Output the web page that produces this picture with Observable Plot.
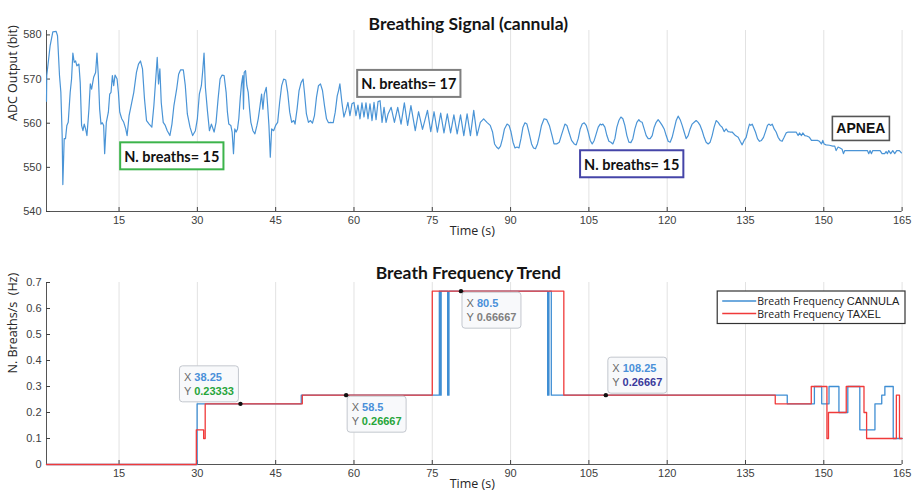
<!DOCTYPE html>
<html><head><meta charset="utf-8">
<script src="https://cdn.jsdelivr.net/npm/d3@7"></script>
<script src="https://cdn.jsdelivr.net/npm/@observablehq/plot@0.6"></script>
<style>
html,body{margin:0;padding:0;background:#fff;}
#chart{width:913px;height:495px;overflow:hidden;}
#chart svg{display:block;}
</style>
</head><body><div id="chart"></div>
<script>
// ---------- DATA ----------
const signalTime = [1.1,1.15,1.79,2.31,2.95,3.21,3.59,3.85,4.10,4.23,4.49,4.74,5.00,5.26,5.64,5.90,6.15,6.41,6.67,6.92,7.31,7.56,7.82,8.08,8.33,8.59,8.85,9.23,9.49,9.74,10.13,10.51,10.77,11.03,11.28,11.54,11.79,12.05,12.24,12.56,12.95,13.21,13.46,13.72,13.97,14.23,14.62,14.87,15.13,15.51,15.90,16.28,16.54,16.92,17.31,17.82,18.33,18.72,19.10,19.49,19.87,20.26,20.77,21.28,21.67,22.05,22.31,22.56,22.82,23.08,23.46,23.85,24.23,24.74,25.13,25.51,26.03,26.41,26.79,27.31,27.69,28.08,28.59,29.10,29.62,30.00,30.38,30.77,31.03,31.28,31.54,31.92,32.31,32.69,33.21,
33.58,33.97,34.35,34.74,35.12,35.51,35.76,36.02,36.41,36.66,36.92,37.17,37.43,37.69,37.94,38.20,38.46,38.71,38.84,38.97,39.23,39.48,39.74,40.00,40.25,40.64,41.02,41.41,41.66,41.92,42.30,42.56,42.82,43.20,43.46,43.71,43.97,44.23,44.61,44.99,45.38,45.76,46.15,46.53,46.92,47.30,47.69,48.07,48.46,48.71,49.10,49.48,49.87,50.25,50.51,50.89,51.28,51.66,52.05,52.43,52.82,53.20,53.58,53.97,54.35,54.74,55.12,55.51,56.02,56.41,56.79,57.05,57.30,57.69,58.07,58.46,58.84,59.23,59.61,60.00,60.38,60.76,61.15,61.53,61.92,62.30,62.69,63.07,63.46,63.84,64.23,64.61,65.00,65.38,65.76,66.15,66.53,
67.12,67.75,68.38,69.02,69.65,70.28,70.91,71.74,72.37,73.13,74.08,74.71,75.34,75.98,76.61,77.24,77.88,78.51,79.14,79.77,80.41,81.04,81.67,82.31,82.94,83.57,84.20,84.84,85.47,86.10,86.55,86.93,87.31,87.69,88.07,88.45,88.83,89.33,89.71,90.09,90.47,90.85,91.23,91.61,91.99,92.37,92.75,93.13,93.51,94.02,94.39,94.77,95.15,95.53,95.92,96.42,96.93,97.43,97.94,98.32,98.82,99.33,99.71,
100.41,100.79,101.17,101.68,102.19,102.57,102.96,103.34,103.72,104.11,104.49,104.87,105.26,105.64,106.02,106.40,106.79,107.17,107.43,107.68,108.06,108.45,108.83,109.21,109.59,109.98,110.36,110.74,111.13,111.51,111.89,112.28,112.66,113.04,113.42,113.81,114.19,114.57,114.83,115.21,115.59,115.98,116.36,116.74,117.13,117.51,117.89,118.27,118.66,119.04,119.42,119.81,120.19,120.57,120.95,121.34,121.72,122.10,122.49,122.87,123.25,123.63,124.02,124.40,124.78,125.17,125.55,125.93,126.31,126.70,127.08,127.46,127.85,128.23,128.61,128.99,129.38,129.76,130.14,130.53,130.91,131.29,131.67,132.06,132.44,133.08,
133.60,133.98,134.36,134.74,135.13,135.51,135.77,136.02,136.28,136.53,136.91,137.30,137.68,138.06,138.45,138.83,139.21,139.47,139.85,140.11,140.49,140.87,141.25,141.64,142.02,142.40,142.79,143.17,143.68,144.19,144.70,145.08,145.34,145.72,145.98,146.36,146.74,147.25,147.64,148.27,148.78,149.17,149.55,149.81,150.06,150.44,151.08,151.72,152.10,152.36,152.74,153.12,153.51,153.76,154.02,154.91,156.19,157.46,158.36,158.61,158.87,159.12,159.38,160.02,160.78,161.16,161.67,161.93,162.18,162.44,162.82,163.21,163.59,163.97,164.48,164.87];
const signalValue = [565.0,570.8,577.5,580.7,580.8,579.8,570.8,567.0,557.2,546.1,556.5,556.5,559.5,560.2,567.0,570.0,575.9,573.8,574.1,573.0,573.4,569.2,559.5,558.3,559.8,558.7,557.2,563.2,568.9,567.7,570.4,571.5,575.9,570.8,563.2,559.8,560.1,559.5,553.1,560.2,562.5,566.6,567.0,570.8,568.5,570.9,570.0,567.0,562.5,561.0,560.2,558.7,557.2,561.7,564.0,567.0,571.5,573.4,574.1,572.3,565.5,560.6,559.8,559.1,564.0,570.4,574.9,568.9,572.3,564.7,560.2,559.5,558.3,557.2,559.8,564.0,567.7,571.1,572.1,572.1,568.5,562.1,559.1,557.2,558.3,561.0,566.6,568.5,571.9,575.9,568.1,562.9,558.3,559.8,558.0,
560.2,565.5,570.0,570.9,570.8,567.0,562.5,559.8,559.5,558.0,553.1,558.7,558.0,558.7,561.0,565.5,568.9,570.8,563.2,571.5,571.9,568.5,567.0,563.2,560.2,558.3,557.6,559.5,561.0,563.2,566.6,563.2,566.6,568.1,564.0,559.5,552.3,558.7,558.3,559.5,560.2,564.7,568.5,570.0,569.8,567.0,562.5,560.2,560.6,559.8,563.2,567.4,569.2,570.0,567.0,562.1,560.2,560.6,560.0,561.7,565.9,568.5,568.9,567.4,564.0,561.0,560.1,560.2,560.1,562.5,566.2,567.4,568.9,564.7,561.4,562.9,564.7,561.7,564.4,564.7,561.7,564.1,561.0,564.6,561.4,564.6,561.0,564.4,560.6,564.7,560.8,564.9,565.1,560.2,563.6,560.2,562.1,
563.6,560.2,563.6,559.8,564.6,559.5,564.0,558.3,562.6,558.6,562.9,558.1,562.6,558.0,562.3,557.8,562.1,557.8,561.9,557.6,561.9,557.2,562.1,557.2,562.9,557.2,560.2,561.0,560.2,559.5,558.0,555.3,554.6,554.2,554.8,556.5,558.7,559.8,559.5,558.0,555.7,554.4,554.6,554.4,556.5,559.1,560.1,559.8,558.0,555.3,554.4,554.2,555.3,557.2,559.5,561.0,560.8,559.5,557.2,555.3,555.3,555.7,557.2,
559.8,559.5,558.0,556.1,555.3,555.1,556.5,558.7,559.8,560.1,559.5,558.0,556.1,555.3,556.1,557.6,559.1,559.8,559.6,559.8,559.1,557.2,555.9,555.7,555.3,556.5,559.1,560.6,561.4,561.0,559.5,557.2,555.7,555.6,556.5,558.7,560.2,560.8,560.4,560.2,558.7,557.2,556.5,556.5,557.2,559.1,560.2,560.8,560.2,559.5,558.7,557.2,555.9,555.7,556.8,558.7,560.6,561.6,560.8,559.5,558.0,556.5,557.2,558.7,559.8,560.2,560.6,560.2,559.5,558.3,556.8,555.7,555.3,555.7,557.2,559.1,560.6,560.2,559.5,559.1,558.1,558.7,558.1,558.0,558.0,557.2,
556.8,555.9,555.1,556.1,556.8,558.7,559.8,559.5,559.8,559.1,558.0,556.5,555.9,556.1,556.8,558.1,559.5,559.8,559.5,559.8,558.7,558.0,556.8,556.1,555.9,556.8,557.8,558.0,558.0,558.0,558.0,557.2,557.8,557.2,557.8,557.2,557.1,556.8,556.1,556.1,556.1,555.9,555.3,556.1,555.3,555.1,555.0,554.8,554.8,553.8,554.6,554.4,554.1,553.1,553.8,553.8,553.8,553.8,553.8,553.1,553.8,553.1,553.8,553.8,553.8,553.1,553.1,553.6,553.1,553.8,553.1,553.8,553.1,553.8,553.8,553.3];

const cannulaTime  = [1.1, 29.95, 49.9, 76.35, 76.55, 76.7, 77.95, 78.2, 97.1, 97.35, 97.8, 143.0, 148.2, 149.6, 151.0, 152.9, 154.6, 156.9, 159.8, 161.1, 161.7, 163.3, 165];
const cannulaValue = [0, 0.23333, 0.26667, 0.66667, 0.26667, 0.66667, 0.26667, 0.66667, 0.26667, 0.66667, 0.26667, 0.23333, 0.3, 0.23333, 0.3, 0.2, 0.3, 0.13333, 0.23333, 0.26667, 0.3, 0.1, 0.1];
const taxelTime  = [1.1, 29.8, 31.2, 31.5, 50.1, 75.0, 100.2, 140.7, 147.6, 150.6, 150.9, 154.3, 157.7, 158.2, 163.9, 164.5, 165];
const taxelValue = [0, 0.13333, 0.1, 0.23333, 0.26667, 0.66667, 0.26667, 0.23333, 0.3, 0.1, 0.2, 0.3, 0.2, 0.1, 0.26667, 0.1, 0.1];

const tipTimes  = [38.25, 58.5, 80.5, 108.25];
const tipValues = [0.23333, 0.26667, 0.66667, 0.26667];

const xTicks = [15, 30, 45, 60, 75, 90, 105, 120, 135, 150, 165];
const topYTicks = [540, 550, 560, 570, 580];
const bottomYTicks = [0, 0.1, 0.2, 0.3, 0.4, 0.5, 0.6, 0.7];

const noteLabels = ["N. breaths= 15", "N. breaths= 17", "N. breaths= 15", "APNEA"];
const noteTimes  = [25.2, 70.6, 113.3, 157.2];
const noteLevels = [552.5, 568.9, 550.7, 558.7];

const legendLabels = [["Breath Frequency ", "CANNULA"], ["Breath Frequency ", "TAXEL"]];
const titles = ["Breathing Signal (cannula)", "Breath Frequency Trend"];
const xLabel = "Time (s)";
const yLabels = ["ADC Output (bit)", "N. Breaths/s  (Hz)"];

// ---------- STYLE ----------
const BLUE = "#3f8ed3", RED = "#f03a3a";
const noteStrokes = ["#3cb44b", "#7f7f7f", "#4545a8", "#555555"];
const noteFonts = ["Lato", "Lato", "Lato", "'Liberation Sans'"];
const tipYColors = ["#27a53a", "#27a53a", "#808080", "#3a3a9c"];
const tipCorners = [["br", -1.5, -1.5], ["tl", 1.5, 1.5], ["tl", 1.5, 1.5], ["bl", 2.5, -1.5]];
const TICK = "#404040";
const X0 = 1.1;

// ---------- TABLES ----------
const signal = signalTime.map((t, i) => ({t, v: signalValue[i]}));
const cannula = cannulaTime.map((t, i) => ({t, v: cannulaValue[i]}));
const taxel = taxelTime.map((t, i) => ({t, v: taxelValue[i]}));
const tips = tipTimes.map((t, i) => ({t, v: tipValues[i]}));

// custom mark: boxed annotations positioned through the plot's scales
function boxed(specs) {
  return function(...args) {
    const scales = args.find(a => a && typeof a.x === "function" && typeof a.y === "function");
    const g = d3.create("svg:g").attr("text-anchor", "start");
    for (const s of specs) {
      const ax = scales.x(s.x), ay = scales.y(s.y);
      const bg = g.append("g").attr("class", "boxed")
        .attr("data-ax", ax).attr("data-ay", ay)
        .attr("data-corner", s.corner).attr("data-dx", s.dx || 0).attr("data-dy", s.dy || 0)
        .attr("data-px", s.padX).attr("data-py", s.padY);
      bg.append("rect").attr("class", "bx")
        .attr("fill", s.fill).attr("stroke", s.stroke).attr("stroke-width", s.strokeWidth)
        .attr("rx", s.rx || 0);
      const c = bg.append("g").attr("class", "content");
      s.rows.forEach((row, i) => {
        const y = i * (s.lineHeight || 0);
        let x0 = 0;
        if (row.swatch) {
          c.append("line").attr("x1", 0).attr("x2", row.swatchWidth).attr("y1", y).attr("y2", y)
            .attr("stroke", row.swatch).attr("stroke-width", 1.4);
          x0 = row.swatchWidth + 1;
        }
        const tx = c.append("text").attr("x", x0).attr("y", y)
          .attr("text-anchor", "start").attr("dominant-baseline", "central");
        for (const seg of row.segs) {
          tx.append("tspan").text(seg.text).attr("fill", seg.fill)
            .attr("font-weight", seg.weight || "normal")
            .attr("font-family", seg.family).attr("font-size", seg.size);
        }
      });
    }
    return g.node();
  };
}

function layoutBoxes(root) {
  root.querySelectorAll("g.boxed").forEach(el => {
    const content = el.querySelector("g.content");
    const rect = el.querySelector("rect.bx");
    const bb = content.getBBox();
    const px = +el.dataset.px, py = +el.dataset.py;
    const w = bb.width + 2 * px, h = bb.height + 2 * py;
    const rx = bb.x - px, ry = bb.y - py;
    rect.setAttribute("x", rx); rect.setAttribute("y", ry);
    rect.setAttribute("width", w); rect.setAttribute("height", h);
    const ax = +el.dataset.ax, ay = +el.dataset.ay, dx = +el.dataset.dx, dy = +el.dataset.dy;
    let left, top;
    switch (el.dataset.corner) {
      case "br": left = ax - w; top = ay - h; break;
      case "tl": left = ax; top = ay; break;
      case "bl": left = ax; top = ay - h; break;
      case "tr": left = ax - w; top = ay; break;
      default: left = ax - w / 2; top = ay - h / 2;
    }
    el.setAttribute("transform", `translate(${left + dx - rx},${top + dy - ry})`);
  });
}

const labelFont = {fontFamily: "'Open Sans'", fontSize: 12.5, fill: "#262626"};
const titleFont = {fontFamily: "Lato", fontWeight: "bold", fontSize: 17.5, fill: "#141414"};

function frameMarks(yDomain, yTicks, title, yLabel, titleDy) {
  return [
    Plot.gridX(xTicks, {stroke: "#e2e2e2", strokeOpacity: 1}),
    Plot.ruleX([X0], {stroke: "#555"}),
    Plot.ruleY([yDomain[0]], {stroke: "#555"}),
    Plot.axisX(xTicks, {tickSize: -4, tickPadding: 9, color: TICK, label: null}),
    Plot.axisY(yTicks, {tickSize: -4, tickPadding: 9, color: TICK, label: null, tickFormat: d => String(d)}),
    Plot.text([title], {text: d => d, frameAnchor: "top", dy: titleDy, dx: -6, ...titleFont}),
    Plot.text([xLabel], {text: d => d, frameAnchor: "bottom", dy: 23, dx: -2, ...labelFont}),
    Plot.text([yLabel], {text: d => d, frameAnchor: "left", dx: -34, rotate: -90, ...labelFont})
  ];
}

const topNotes = noteLabels.map((label, i) => ({
  x: noteTimes[i], y: noteLevels[i], corner: "c",
  padX: 4, padY: i === 3 ? 4 : 5,
  fill: "#fff", stroke: noteStrokes[i], strokeWidth: i === 3 ? 1.6 : 2,
  rows: [{segs: [{text: label, fill: "#111", weight: "bold", family: noteFonts[i], size: i === 3 ? "14px" : "14.5px"}]}]
}));

const tipSpecs = tips.map((d, i) => ({
  x: d.t, y: d.v, corner: tipCorners[i][0], dx: tipCorners[i][1], dy: tipCorners[i][2],
  padX: 4.5, padY: 5, fill: "#f8f9fb", stroke: "#c3c7ce", strokeWidth: 1, rx: 3, lineHeight: 14,
  rows: [
    {segs: [{text: "X ", fill: "#6a6a6a", family: "'Liberation Sans'", size: "11px"},
            {text: String(tipTimes[i]), fill: "#4a90d9", weight: "bold", family: "'Liberation Sans'", size: "11px"}]},
    {segs: [{text: "Y ", fill: "#6a6a6a", family: "'Liberation Sans'", size: "11px"},
            {text: String(tipValues[i]), fill: tipYColors[i], weight: "bold", family: "'Liberation Sans'", size: "11px"}]}
  ]
}));

const legendSpec = [{
  x: 165, y: 0.7, corner: "tr", dx: 3.4, dy: 9, padX: 5, padY: 3,
  fill: "#fff", stroke: "#333", strokeWidth: 1.2, lineHeight: 12.5,
  rows: legendLabels.map((parts, i) => ({
    swatch: [BLUE, RED][i], swatchWidth: 34,
    segs: [{text: parts[0], fill: "#222", family: "'Open Sans'", size: "10.5px"},
           {text: parts[1], fill: "#222", family: "'Liberation Sans'", size: "11px"}]
  }))
}];

const common = {
  width: 913,
  marginLeft: 46, marginRight: 11.4,
  style: {fontFamily: "'Liberation Sans', Arial, sans-serif", fontSize: "11px", background: "#fff", overflow: "visible"},
  x: {domain: [X0, 165]}
};

const topChart = Plot.plot({
  ...common,
  height: 245, marginTop: 30, marginBottom: 34,
  y: {domain: [540, 581]},
  marks: [
    ...frameMarks([540, 581], topYTicks, titles[0], yLabels[0], -13),
    Plot.line(signal, {x: "t", y: "v", stroke: "#4a94d6", strokeWidth: 1.2}),
    boxed(topNotes)
  ]
});

const bottomChart = Plot.plot({
  ...common,
  height: 250, marginTop: 37, marginBottom: 31,
  y: {domain: [0, 0.7]},
  marks: [
    ...frameMarks([0, 0.7], bottomYTicks, titles[1], yLabels[1], -15.5),
    Plot.line(cannula, {x: "t", y: "v", curve: "step-after", stroke: BLUE, strokeWidth: 1.3}),
    Plot.line(taxel, {x: "t", y: "v", curve: "step-after", stroke: RED, strokeWidth: 1.3}),
    Plot.dot(tips, {x: "t", y: "v", r: 2.2, fill: "#111", stroke: "none"}),
    boxed(tipSpecs),
    boxed(legendSpec)
  ]
});

const root = document.getElementById("chart");
root.appendChild(topChart);
root.appendChild(bottomChart);
layoutBoxes(root);
</script>
</body></html>
